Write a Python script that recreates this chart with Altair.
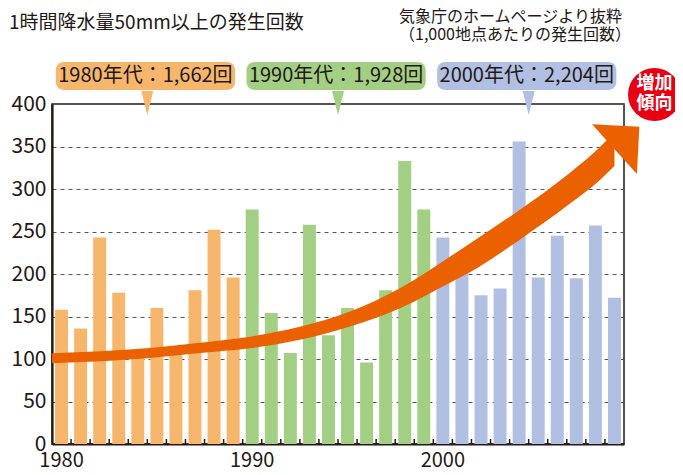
import altair as alt
import pandas as pd

# ---- data ----
years = list(range(1980, 2010))
counts = [158, 136, 243, 178, 102, 160, 110, 181, 252, 196,
          276, 154, 107, 258, 128, 160, 96, 181, 333, 276,
          243, 205, 175, 183, 356, 196, 245, 195, 257, 172]
decade_keys = ["1980", "1990", "2000"]
decade_start = [1980, 1990, 2000]
decade_labels = ["1980年代：1,662回", "1990年代：1,928回", "2000年代：2,204回"]
decade_colors = ["#F6B76D", "#A2CF83", "#B0BFE2"]

# trend arrow: centre line and half thickness (value units)
trend_year = [1979.5, 1984.64, 1987.26, 1989.88, 1992.5, 1995.13, 1997.75,
              2000.37, 2001.42, 2004.04, 2006.67, 2008.24, 2009.0]
trend_val = [101, 107, 113, 119.4, 130.2, 147, 171.5, 205, 219, 258, 301, 330, 347]
trend_half = [5.9, 5.9, 6.0, 6.8, 7.6, 8.8, 11.8, 15.3, 17, 17.6, 18.2, 19.4, 20]

title_text = "1時間降水量50mm以上の発生回数"
source_lines = ["気象庁のホームページより抜粋", "（1,000地点あたりの発生回数）"]
badge_lines = ["増加", "傾向"]

FONT = "Noto Sans CJK JP"
INK = "#231815"
ARROW = "#EB6100"

bars_df = pd.DataFrame({"year": years, "count": counts,
                        "decade": [str(y // 10 * 10) for y in years]})
call_df = pd.DataFrame({"decade": decade_keys, "start": decade_start, "label": decade_labels})
trend_df = pd.DataFrame({"t": trend_year, "v": trend_val, "h": trend_half})
trend_df["lo"] = trend_df["v"] - trend_df["h"]
trend_df["hi"] = trend_df["v"] + trend_df["h"]
head_df = trend_df.tail(1).reset_index(drop=True)
one = pd.DataFrame({"k": [0]})

qscale = alt.Scale(domain=[1979.5, 2009.5], nice=False, zero=False)
yscale = alt.Scale(domain=[0, 400], nice=False)
cscale = alt.Scale(domain=decade_keys, range=decade_colors)

bars = alt.Chart(bars_df).mark_bar().encode(
    x=alt.X("year:O", scale=alt.Scale(paddingInner=0.32, paddingOuter=0.16),
            axis=alt.Axis(values=[1980, 1990, 2000], labelAngle=0, title=None,
                          labelPadding=6, labelFontSize=20, grid=False, ticks=False)),
    y=alt.Y("count:Q", scale=yscale,
            axis=alt.Axis(values=list(range(0, 401, 50)), title=None, labelPadding=6,
                          labelFontSize=21, grid=True, ticks=False)),
    color=alt.Color("decade:N", scale=cscale, legend=None),
)

ticks = alt.Chart(bars_df).transform_calculate(b="datum.year - 0.5").transform_filter(
    "datum.b > 1979.6").mark_rule(color=INK, strokeWidth=1.5).encode(
    x=alt.X("b:Q", scale=qscale, axis=None),
    y=alt.value(335), y2=alt.value(340))

shaft = alt.Chart(trend_df).mark_area(
    color=ARROW, interpolate="monotone", opacity=1).encode(
    x=alt.X("t:Q", scale=qscale, axis=None),
    y=alt.Y("lo:Q", scale=yscale, stack=None),
    y2=alt.Y2("hi:Q"))

head = alt.Chart(head_df).mark_point(
    shape="M 0 -1 L 1.0 0 L 0 1 Z", filled=True, size=4489, angle=318,
    color=ARROW, opacity=1, strokeWidth=0).encode(
    x=alt.X("t:Q", scale=qscale, axis=None),
    y=alt.Y("v:Q", scale=yscale))

boxes = alt.Chart(call_df).transform_calculate(
    x1="datum.start - 0.3", x2="datum.start + 9.1").mark_rect(
    cornerRadius=8).encode(
    x=alt.X("x1:Q", scale=qscale, axis=None), x2="x2:Q",
    y=alt.value(-42), y2=alt.value(-14),
    color=alt.Color("decade:N", scale=cscale, legend=None))

pointers = alt.Chart(call_df).transform_calculate(m="datum.start + 4.5").mark_point(
    shape="M -0.5 -1 L 0.5 -1 L 0 1 Z", filled=True, size=576, opacity=1,
    strokeWidth=0).encode(
    x=alt.X("m:Q", scale=qscale, axis=None), y=alt.value(-1),
    color=alt.Color("decade:N", scale=cscale, legend=None))

box_text = alt.Chart(call_df).transform_calculate(m="datum.start + 4.4").mark_text(
    font=FONT, fontSize=20, color=INK, baseline="middle", align="center").encode(
    x=alt.X("m:Q", scale=qscale, axis=None), y=alt.value(-28), text="label:N")

badge = alt.Chart(one).mark_point(shape="circle", filled=True, size=2809,
                                  color="#E60012", opacity=1, strokeWidth=0).encode(
    x=alt.value(602.5), y=alt.value(-9.5))

badge_text = alt.Chart(one).mark_text(
    text=badge_lines, font=FONT, fontSize=18, fontWeight="bold", color="white",
    lineHeight=20, align="center", baseline="middle").encode(
    x=alt.value(602.5), y=alt.value(-20.5))

title = alt.Chart(one).mark_text(
    text=title_text, font=FONT, fontSize=19, color=INK, align="left",
    baseline="middle").encode(x=alt.value(-43), y=alt.value(-81))

source = alt.Chart(one).mark_text(
    text=source_lines, font=FONT, fontSize=16, color=INK, align="left",
    baseline="middle", lineHeight=18).encode(x=alt.value(347), y=alt.value(-87))

chart = alt.layer(
    bars, ticks, shaft, head, boxes, pointers, box_text, badge, badge_text, title, source
).resolve_scale(x="independent").properties(
    width=572, height=340,
    autosize=alt.AutoSizeParams(type="none"),
    padding={"left": 44, "top": 96, "right": 51, "bottom": 28},
).configure_view(
    stroke=INK, strokeWidth=1.5
).configure_axis(
    labelFont=FONT, labelColor=INK,
    domainColor=INK, domainWidth=2.2,
    gridColor="#555555", gridDash=[4, 4], gridWidth=1.2,
)

chart.save("out.html", embed_options={"renderer": "svg", "actions": False})
